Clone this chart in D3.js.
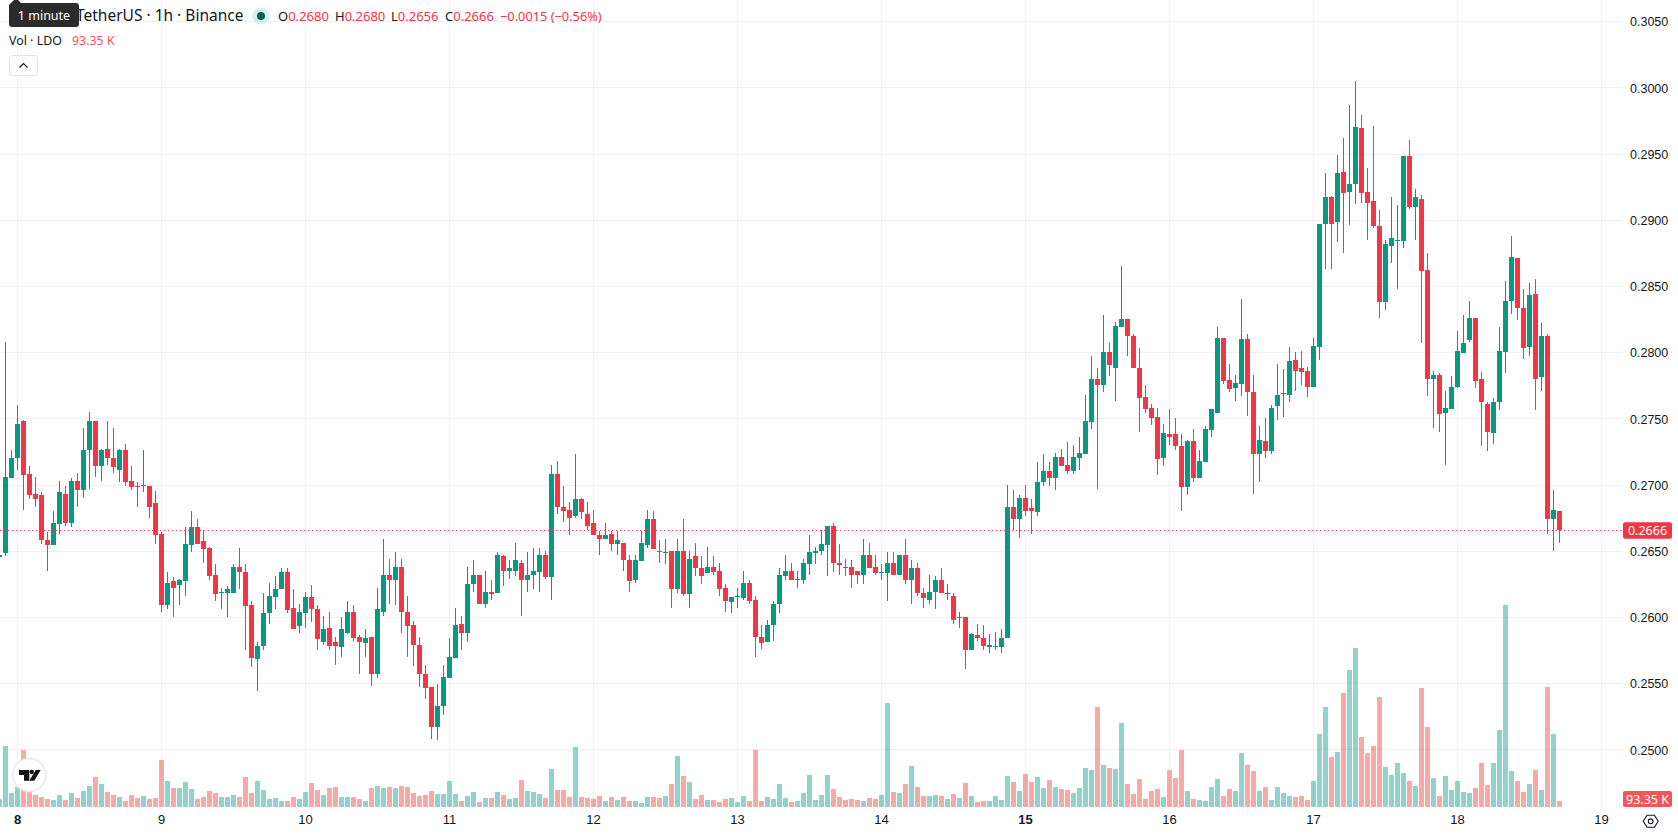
<!DOCTYPE html>
<html>
<head>
<meta charset="utf-8">
<title>LDO / TetherUS 1h</title>
<script src="https://cdn.jsdelivr.net/npm/d3@7/dist/d3.min.js"></script>
<style>
  html, body { margin: 0; padding: 0; background: #fff; overflow: hidden; }
  svg { display: block; font-family: "Noto Sans", "Open Sans", sans-serif; }
</style>
</head>
<body>
<svg id="chart" width="1678" height="835"></svg>
<script>
// Hourly candles, prices in ten-thousandths of a dollar.
const opens = [
  2645,2648,2705,2720,2748,2708,2693,2692,2658,2654,
  2670,2693,2671,2703,2696,2726,2748,2714,2727,2720,
  2711,2726,2703,2699,2699,2699,2686,2663,2609,2627,
  2624,2627,2654,2668,2657,2652,2632,2618,2618,2618,
  2638,2634,2609,2568,2578,2603,2615,2621,2634,2607,
  2593,2603,2615,2606,2581,2592,2581,2577,2588,2604,
  2585,2580,2585,2557,2604,2632,2628,2638,2604,2594,
  2579,2557,2547,2517,2533,2554,2569,2595,2588,2625,
  2632,2610,2619,2618,2646,2635,2635,2641,2628,2632,
  2634,2647,2630,2708,2683,2681,2676,2689,2678,2671,
  2662,2659,2663,2655,2656,2643,2628,2642,2654,2674,
  2650,2648,2650,2621,2650,2617,2646,2637,2633,2638,
  2635,2622,2611,2615,2614,2626,2613,2585,2581,2594,
  2610,2631,2635,2628,2628,2640,2648,2650,2654,2669,
  2641,2638,2638,2635,2632,2647,2638,2633,2633,2641,
  2632,2647,2628,2637,2618,2613,2619,2628,2617,2616,
  2599,2600,2575,2586,2584,2577,2578,2577,2584,2683,
  2674,2690,2682,2679,2702,2710,2705,2721,2715,2710,
  2720,2723,2747,2780,2775,2800,2788,2819,2825,2812,
  2788,2766,2758,2751,2720,2738,2738,2729,2698,2733,
  2705,2717,2741,2754,2811,2779,2773,2776,2810,2770,
  2723,2733,2725,2759,2769,2768,2794,2788,2786,2774,
  2804,2897,2917,2898,2936,2921,2927,2969,2921,2914,
  2895,2838,2880,2884,2884,2948,2910,2916,2862,2780,
  2783,2754,2757,2774,2799,2809,2826,2780,2761,2739,
  2762,2800,2839,2871,2833,2804,2844,2781,2812,2674,
  2680
];
const highs = [
  2647,2808,2726,2760,2749,2714,2706,2694,2664,2680,
  2703,2699,2705,2709,2743,2755,2748,2727,2748,2743,
  2727,2731,2714,2702,2726,2699,2695,2664,2634,2630,
  2629,2668,2680,2674,2666,2653,2640,2622,2623,2640,
  2652,2640,2612,2581,2618,2626,2631,2637,2637,2621,
  2610,2619,2624,2609,2601,2604,2585,2600,2612,2609,
  2586,2591,2585,2622,2659,2644,2649,2644,2616,2597,
  2585,2564,2547,2549,2564,2584,2607,2601,2638,2643,
  2632,2635,2628,2649,2647,2643,2656,2643,2649,2652,
  2652,2650,2715,2718,2699,2687,2723,2690,2687,2681,
  2665,2671,2665,2665,2656,2647,2647,2665,2681,2680,
  2658,2659,2650,2659,2674,2650,2656,2646,2653,2646,
  2641,2625,2615,2622,2635,2628,2616,2594,2598,2612,
  2637,2647,2641,2635,2644,2662,2653,2666,2669,2671,
  2655,2644,2643,2635,2659,2656,2647,2640,2649,2649,
  2647,2659,2643,2641,2622,2632,2631,2637,2625,2618,
  2604,2600,2588,2595,2594,2587,2589,2591,2700,2696,
  2692,2700,2689,2717,2723,2717,2724,2727,2732,2730,
  2736,2768,2797,2788,2828,2807,2823,2865,2825,2814,
  2803,2775,2761,2758,2746,2757,2750,2738,2734,2742,
  2726,2744,2757,2819,2811,2791,2783,2840,2814,2783,
  2744,2750,2760,2791,2787,2804,2800,2801,2789,2811,
  2897,2935,2918,2949,2962,2987,3005,2979,2939,2971,
  2907,2885,2917,2911,2948,2960,2923,2919,2875,2786,
  2784,2771,2782,2816,2828,2839,2826,2785,2762,2765,
  2819,2854,2888,2871,2848,2852,2855,2822,2814,2696,
  2680
];
const lows = [
  2645,2646,2705,2711,2681,2689,2683,2655,2635,2654,
  2663,2669,2668,2683,2690,2697,2706,2703,2715,2709,
  2702,2699,2696,2683,2694,2675,2655,2604,2606,2600,
  2609,2616,2649,2655,2641,2628,2612,2606,2600,2618,
  2621,2575,2562,2544,2575,2595,2606,2621,2603,2591,
  2588,2592,2596,2575,2579,2575,2564,2570,2587,2582,
  2557,2570,2548,2554,2601,2610,2609,2588,2570,2563,
  2547,2538,2508,2507,2526,2554,2569,2575,2581,2619,
  2610,2607,2613,2618,2623,2629,2631,2601,2619,2621,
  2619,2629,2613,2678,2672,2662,2675,2674,2666,2662,
  2647,2659,2650,2647,2635,2619,2626,2642,2652,2651,
  2641,2640,2607,2618,2616,2607,2631,2625,2633,2632,
  2616,2604,2603,2607,2613,2610,2570,2576,2581,2582,
  2603,2628,2628,2622,2625,2632,2640,2647,2631,2634,
  2632,2631,2622,2625,2625,2637,2632,2628,2612,2632,
  2632,2625,2610,2616,2607,2610,2606,2618,2613,2595,
  2592,2561,2575,2582,2575,2573,2575,2573,2584,2666,
  2660,2676,2663,2676,2699,2699,2696,2714,2708,2708,
  2711,2723,2742,2697,2770,2782,2763,2819,2797,2788,
  2740,2754,2745,2707,2714,2730,2726,2680,2692,2702,
  2705,2717,2736,2754,2776,2770,2763,2767,2752,2693,
  2702,2720,2723,2749,2751,2762,2771,2775,2766,2774,
  2794,2863,2863,2883,2875,2896,2912,2913,2885,2894,
  2826,2832,2867,2848,2879,2908,2885,2807,2767,2743,
  2740,2715,2757,2773,2799,2808,2773,2729,2725,2731,
  2756,2784,2829,2824,2795,2797,2756,2771,2663,2650,
  2656
];
const closes = [
  2647,2706,2720,2746,2707,2692,2689,2658,2654,2671,
  2694,2671,2703,2696,2726,2748,2714,2726,2720,2713,
  2726,2702,2698,2698,2700,2683,2662,2609,2626,2622,
  2628,2655,2668,2655,2651,2631,2617,2619,2621,2638,
  2634,2608,2569,2578,2603,2616,2621,2634,2605,2591,
  2604,2615,2606,2583,2591,2578,2578,2591,2604,2584,
  2581,2584,2557,2606,2632,2628,2638,2604,2593,2579,
  2557,2546,2517,2533,2555,2570,2594,2588,2625,2632,
  2610,2619,2617,2647,2635,2637,2643,2628,2632,2635,
  2647,2630,2708,2683,2680,2675,2689,2679,2669,2662,
  2659,2662,2655,2658,2643,2627,2643,2656,2674,2651,
  2649,2649,2621,2650,2617,2644,2637,2631,2638,2634,
  2621,2612,2615,2616,2626,2612,2585,2580,2594,2610,
  2632,2635,2628,2629,2641,2649,2650,2655,2669,2641,
  2639,2637,2632,2632,2647,2637,2633,2634,2641,2632,
  2647,2628,2637,2618,2614,2619,2628,2618,2618,2598,
  2600,2575,2587,2584,2578,2579,2578,2584,2683,2674,
  2690,2680,2680,2702,2710,2705,2721,2714,2710,2721,
  2724,2748,2780,2775,2800,2790,2820,2825,2812,2788,
  2765,2757,2750,2719,2739,2736,2729,2698,2733,2705,
  2718,2742,2757,2811,2778,2772,2777,2810,2770,2723,
  2734,2725,2758,2768,2769,2793,2786,2785,2774,2805,
  2897,2917,2897,2935,2920,2927,2970,2920,2913,2895,
  2838,2882,2886,2885,2948,2910,2917,2861,2780,2783,
  2753,2758,2774,2801,2807,2826,2778,2762,2740,2762,
  2801,2839,2872,2833,2803,2843,2780,2812,2674,2681,
  2666
];
// Traded volume per hour, in thousands of LDO.
const volumes = [
  124,949,218,311,887,233,187,156,124,109,
  187,109,218,140,249,327,467,358,233,187,
  156,93,187,140,171,124,140,731,405,296,
  296,389,280,124,156,249,218,156,156,187,
  156,467,218,405,265,124,140,93,93,156,
  124,233,373,265,187,296,311,156,156,156,
  124,93,296,327,296,311,296,327,311,218,
  171,187,249,202,202,405,202,93,171,233,
  78,140,140,233,187,124,140,420,249,233,
  202,140,591,265,265,156,934,156,140,124,
  171,93,156,109,156,93,93,62,156,156,
  140,171,358,794,482,389,124,187,109,109,
  78,124,140,78,171,93,887,93,156,124,
  358,140,78,93,218,498,109,187,498,280,
  156,109,124,109,93,140,124,187,1618,233,
  218,358,638,311,171,171,187,171,124,202,
  140,373,171,78,93,93,171,109,482,389,
  249,513,389,467,296,420,311,280,265,218,
  296,607,576,1556,654,607,591,1307,358,202,
  436,124,249,280,156,576,451,887,249,124,
  109,93,311,436,171,280,249,840,654,560,
  249,311,109,311,218,171,156,171,109,405,
  1136,1556,778,856,1774,2132,2474,1089,840,949,
  1712,622,498,685,529,405,327,1852,1245,451,
  171,482,265,405,233,218,296,685,342,685,
  1198,3143,560,405,233,358,576,265,1867,1136,
  93.35
];
const priceTicks = [0.25,0.255,0.26,0.265,0.27,0.275,0.28,0.285,0.29,0.295,0.3,0.305];
const dayLabels = ["8","9","10","11","12","13","14","15","16","17","18","19"];
const boldDays = ["8","15"];
const firstDayCandle = 3;       // index of the candle that opens day 8
const candlesPerDay = 24;
const lastPrice = 0.2666;
const lastVolumeLabel = "93.35 K";

const UP = "#089981", DOWN = "#f23645";
const UP_VOL = "rgba(38,166,154,0.5)", DOWN_VOL = "rgba(239,83,80,0.5)";
const GRID = "#f0f0f2", TEXT = "#131722";
const paneRight = 1622, paneBottom = 807;

const svg = d3.select("#chart");
const x = d3.scaleLinear().domain([0, 267]).range([-0.5, 1601.5]);
const y = d3.scaleLinear().domain([0.25, 0.3]).range([749.35, 87.35]);
const yVol = d3.scaleLinear().domain([0, 3143]).range([paneBottom, paneBottom - 202]);
const price = v => v * 1e-4;
const snap = v => Math.round(v) + 0.5;
const dayIndex = dayLabels.map((_, k) => firstDayCandle + k * candlesPerDay);

const candles = opens.map((o, i) => ({
  i, o: price(o), h: price(highs[i]), l: price(lows[i]), c: price(closes[i]), v: volumes[i],
  up: closes[i] >= o
}));

// Grid
const grid = svg.append("g").attr("shape-rendering", "crispEdges");
grid.selectAll(".h").data(priceTicks).join("line").attr("class", "h")
  .attr("x1", 0).attr("x2", paneRight)
  .attr("y1", d => snap(y(d))).attr("y2", d => snap(y(d)))
  .attr("stroke", GRID);
grid.selectAll(".v").data(dayIndex).join("line").attr("class", "v")
  .attr("x1", d => x(d)).attr("x2", d => x(d))
  .attr("y1", 0).attr("y2", paneBottom)
  .attr("stroke", GRID);

// Volume histogram sits behind the candles
const bars = svg.append("g").attr("shape-rendering", "crispEdges");
bars.selectAll("rect").data(candles).join("rect")
  .attr("x", d => x(d.i) - 2.5)
  .attr("width", 5)
  .attr("y", d => Math.round(yVol(d.v)))
  .attr("height", d => paneBottom - Math.round(yVol(d.v)))
  .attr("fill", d => d.up ? UP_VOL : DOWN_VOL);

// Candles
const marks = svg.append("g").attr("shape-rendering", "crispEdges");
const candle = marks.selectAll("g").data(candles).join("g")
  .attr("fill", d => d.up ? UP : DOWN);
candle.append("rect")
  .attr("x", d => x(d.i) - 0.5).attr("width", 1)
  .attr("y", d => Math.round(y(d.h)))
  .attr("height", d => Math.max(1, Math.round(y(d.l)) - Math.round(y(d.h))));
candle.append("rect")
  .attr("x", d => x(d.i) - 2.5).attr("width", 5)
  .attr("y", d => Math.round(y(Math.max(d.o, d.c))))
  .attr("height", d => Math.max(1, Math.round(y(Math.min(d.o, d.c))) - Math.round(y(Math.max(d.o, d.c)))));

// Last price line
svg.append("line")
  .attr("x1", 0).attr("x2", paneRight)
  .attr("y1", snap(y(lastPrice))).attr("y2", snap(y(lastPrice)))
  .attr("stroke", DOWN).attr("stroke-dasharray", "1 3");

// Price axis
const priceAxis = svg.append("g")
  .attr("transform", `translate(${paneRight},0)`)
  .call(d3.axisRight(y).offset(0).tickValues(priceTicks).tickSize(0).tickPadding(8).tickFormat(d3.format(".4f")));
priceAxis.select(".domain").remove();
priceAxis.selectAll("text")
  .attr("font-size", 12.5).attr("font-family", "inherit").attr("fill", TEXT).attr("dy", "0.42em");

// Time axis
const timeAxis = svg.append("g")
  .attr("transform", `translate(0,${paneBottom})`)
  .call(d3.axisBottom(x).offset(0).tickValues(dayIndex).tickSize(0).tickPadding(8)
    .tickFormat((_, k) => dayLabels[k]));
timeAxis.select(".domain").remove();
timeAxis.selectAll("text")
  .attr("font-size", 13).attr("font-family", "inherit").attr("fill", TEXT)
  .attr("font-weight", (_, k) => boldDays.includes(dayLabels[k]) ? 700 : 400);

// Current value tags on the price scale
function valueTag(cy, h, fill, label) {
  svg.append("rect").attr("x", 1623).attr("y", cy - h / 2).attr("width", 49).attr("height", h)
    .attr("rx", 2).attr("fill", fill);
  svg.append("text").attr("x", 1647.5).attr("y", cy).attr("dy", "0.36em")
    .attr("text-anchor", "middle").attr("font-size", 12.5).attr("fill", "#fff").text(label);
}
valueTag(snap(y(lastPrice)), 16.5, DOWN, d3.format(".4f")(lastPrice));
valueTag(799, 16, "#f0565a", lastVolumeLabel);

// Legend
const legend = svg.append("g").attr("font-size", 13);
legend.append("text").attr("x", 76).attr("y", 21).attr("font-size", 15.5).attr("fill", TEXT)
  .text("TetherUS · 1h · Binance");
legend.append("circle").attr("cx", 261).attr("cy", 16).attr("r", 8.5).attr("fill", "#d8eeea");
legend.append("circle").attr("cx", 261).attr("cy", 16).attr("r", 4).attr("fill", "#056656");
const last = candles[candles.length - 1];
const ohlcFmt = d3.format(".4f");
[["O", last.o, 278], ["H", last.h, 335], ["L", last.l, 391], ["C", last.c, 445]].forEach(([key, val, px]) => {
  const t = legend.append("text").attr("x", px).attr("y", 20.5);
  t.append("tspan").attr("fill", TEXT).text(key);
  t.append("tspan").attr("fill", DOWN).text(ohlcFmt(val));
});
legend.append("text").attr("x", 500).attr("y", 20.5).attr("fill", DOWN).attr("font-size", 12.8).text("−0.0015 (−0.56%)");
legend.append("text").attr("x", 9).attr("y", 44.5).attr("fill", TEXT).attr("font-size", 12.4).text("Vol · LDO");
legend.append("text").attr("x", 72).attr("y", 44.5).attr("fill", "#f7525f").attr("font-size", 12.4).text(lastVolumeLabel);

// Collapse button
legend.append("rect").attr("x", 9.5).attr("y", 55.5).attr("width", 28).attr("height", 20).attr("rx", 3)
  .attr("fill", "#fff").attr("stroke", "#dfe1e6");
legend.append("path").attr("d", "M19.5 67.5l4-4 4 4").attr("fill", "none").attr("stroke", TEXT).attr("stroke-width", 1.2);

// Tooltip over the legend
svg.append("path").attr("d", "M11 3L16 -2L21 3Z").attr("fill", "#2b2b2d");
svg.append("rect").attr("x", 9).attr("y", 3).attr("width", 70).attr("height", 24).attr("rx", 3).attr("fill", "#2b2b2d");
svg.append("text").attr("x", 44).attr("y", 15.5).attr("dy", "0.35em").attr("text-anchor", "middle")
  .attr("font-size", 12.5).attr("fill", "#fff").text("1 minute");

// Brand badge
const badge = svg.append("g");
badge.append("circle").attr("cx", 29.3).attr("cy", 775).attr("r", 16.5)
  .attr("fill", "#fff").attr("stroke", "#e8e8ea").attr("stroke-width", 1.5);
badge.append("path").attr("fill", "#131313")
  .attr("d", "M19 770H29.3V780.7H24V775H19Z M35.7 770H40.7L34.3 780.7H29.3Z");
badge.append("circle").attr("cx", 31.8).attr("cy", 772).attr("r", 2.2).attr("fill", "#131313");

// Settings glyph at the axis corner
const gear = svg.append("g").attr("transform", "translate(1650.7,821.3)")
  .attr("fill", "none").attr("stroke", "#131722").attr("stroke-width", 1.1);
gear.append("path").attr("d", "M-7.5 0L-3.7 -6H3.7L7.5 0L3.7 6H-3.7Z");
gear.append("circle").attr("r", 2.4);
</script>
</body>
</html>
